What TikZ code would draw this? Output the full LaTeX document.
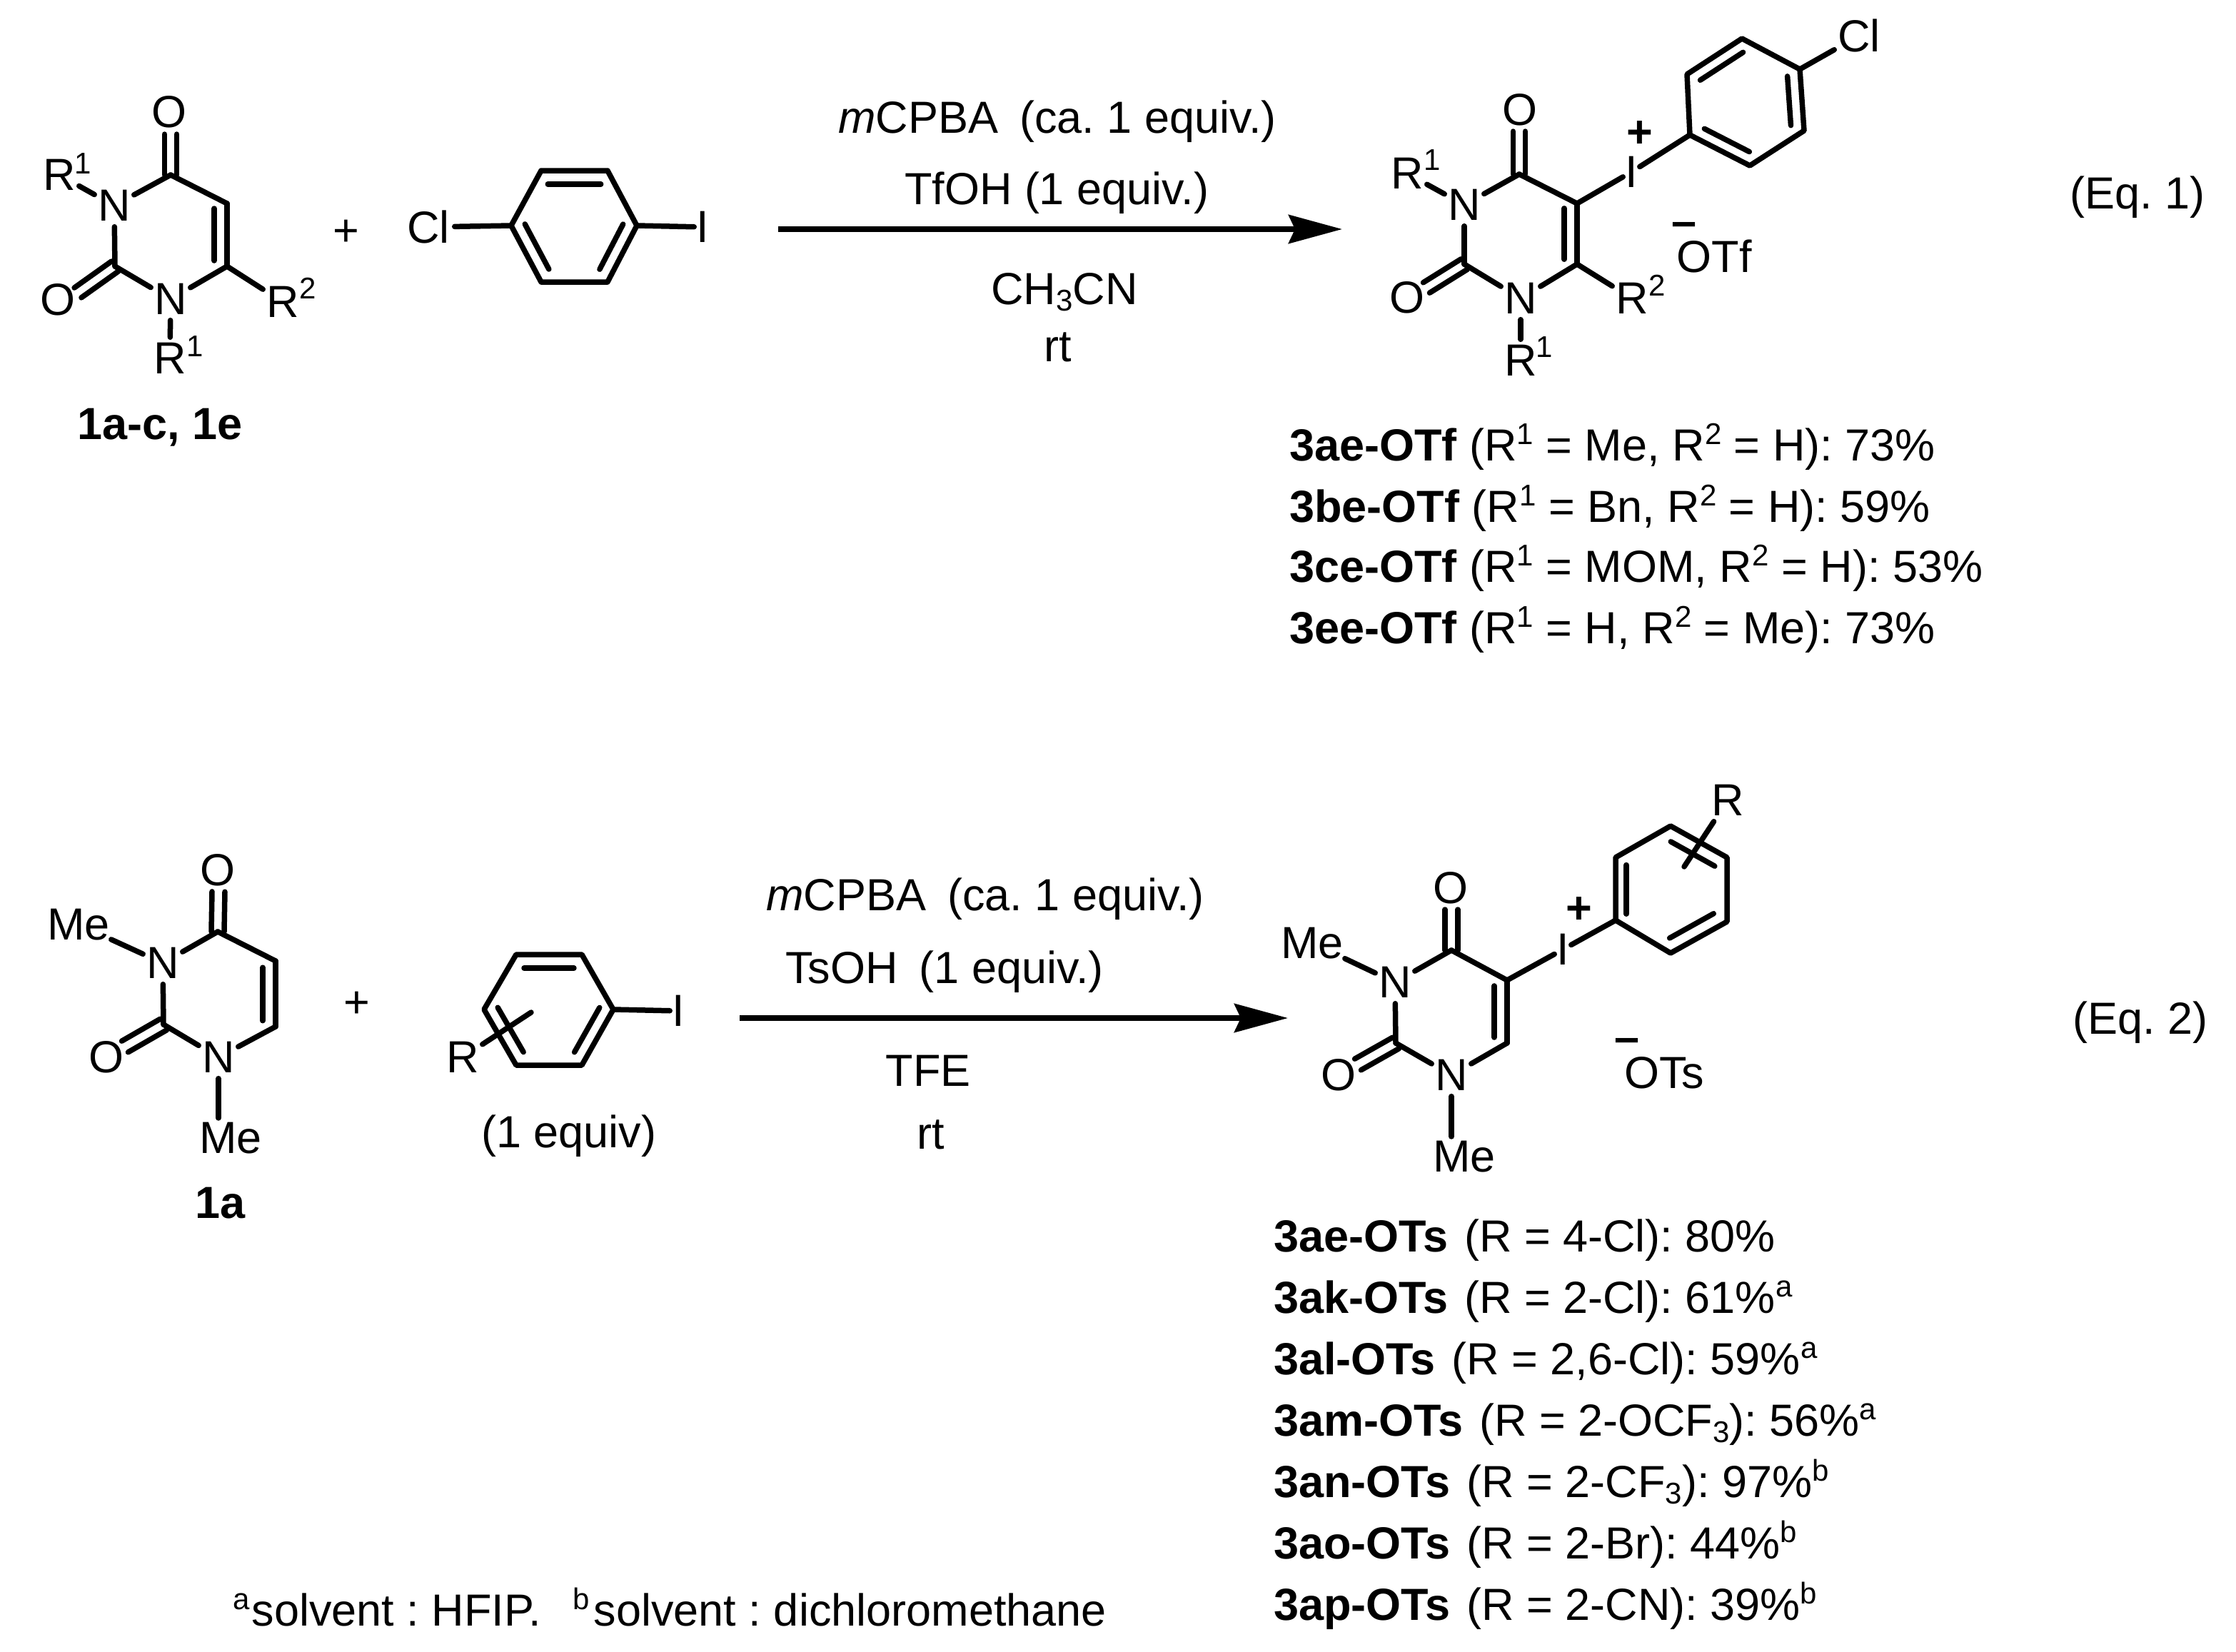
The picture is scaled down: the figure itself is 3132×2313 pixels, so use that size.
\documentclass[tikz,border=0pt]{standalone}
\usepackage{fontspec}
\setmainfont{Liberation Sans}
\usetikzlibrary{calc,arrows.meta}
\frenchspacing
\tikzset{
  base font/.style={font=\fontsize{63}{75}\selectfont\frenchspacing},
  atom/.style={base font,inner xsep=5pt,inner ysep=8pt,outer sep=0pt},
  thinatom/.style={atom,inner xsep=3pt},
  supnum/.style={font=\fontsize{42}{50}\selectfont,inner sep=0pt},
  charge/.style={font=\fontsize{63}{75}\selectfont\bfseries,inner sep=0pt},
  plain/.style={base font,inner sep=0pt,anchor=base},
  listline/.style={base font,inner sep=0pt,anchor=base west},
  compound/.style={font=\fontsize{63}{75}\selectfont\bfseries\frenchspacing,inner sep=0pt,anchor=base},
  bond/.style={line width=7.5pt,line cap=round,line join=round,black},
  rxnarrow/.style={line width=7.5pt,-{Stealth[length=75pt,width=40pt,inset=9pt]}},
}
\newcommand{\innerbond}[5]{\draw[bond] ($(#1)!#3!(#2)!#5pt!90:(#2)$) -- ($(#1)!#4!(#2)!#5pt!90:(#2)$);}
\newcommand{\twinbond}[3]{%
  \draw[bond] ($(#1)!#3pt!90:(#2)$) -- ($(#2)!#3pt!-90:(#1)$);
  \draw[bond] ($(#1)!#3pt!-90:(#2)$) -- ($(#2)!#3pt!90:(#1)$);}
\newcommand{\bd}[2]{\draw[bond] (#1) -- (#2);}
\newcommand{\suptxt}[1]{\raisebox{23pt}{\fontsize{42}{50}\selectfont #1}}
\newcommand{\subtxt}[1]{\raisebox{-9pt}{\fontsize{42}{50}\selectfont #1}}
\begin{document}
\begin{tikzpicture}[x=1pt,y=-1pt]
\useasboundingbox (0,0) rectangle (3132,2313);

% ---------- Eq. 1, reactant 1
\coordinate (aC4) at (239,245);
\coordinate (aC5) at (318,285);
\coordinate (aC6) at (318,373);
\coordinate (aC2) at (161,373);
\coordinate (aO4e) at (239,188);
\coordinate (aO2e) at (109,410);
\node[atom] (aN3) at (160,288) {N};
\node[atom] (aN1) at (239,419) {N};
\node[atom] (aO4) at (237,157) {O};
\node[atom] (aO2) at (81,420) {O};
\node[atom] (aRa) at (83,245) {R};
\node[supnum] (aRas) at (116,229) {1};
\node[atom] (aRb) at (396,423) {R};
\node[supnum] (aRbs) at (431,404) {2};
\node[atom] (aRc) at (238,502) {R};
\node[supnum] (aRcs) at (273,485) {1};
\bd{aN3}{aC4} \bd{aC4}{aC5} \bd{aC5}{aC6} \bd{aC6}{aN1} \bd{aN1}{aC2} \bd{aC2}{aN3}
\bd{aN3}{aRa} \bd{aC6}{aRb} \bd{aN1}{aRc}
\innerbond{aC6}{aC5}{0.09}{0.92}{18}
\twinbond{aC4}{aO4e}{8.5}
\twinbond{aC2}{aO2e}{8.5}
\node[compound] (aLab) at (224,615) {1a-c, 1e};
\node[base font,inner sep=0pt] (plusA) at (485,326) {+};

% ---------- Eq. 1, chloroiodobenzene
\coordinate (bV1) at (716,316);
\coordinate (bV2) at (758,239);
\coordinate (bV3) at (851,239);
\coordinate (bV4) at (892,316);
\coordinate (bV5) at (851,395);
\coordinate (bV6) at (758,395);
\node[atom,inner xsep=7pt] (bCl) at (600,318) {Cl};
\node[thinatom] (bI) at (984,318) {I};
\draw[bond] (bV1) -- (bV2) -- (bV3) -- (bV4) -- (bV5) -- (bV6) -- cycle;
\bd{bCl}{bV1} \bd{bV4}{bI}
\innerbond{bV3}{bV2}{0.1}{0.9}{19}
\innerbond{bV1}{bV6}{0.08}{0.88}{18}
\innerbond{bV5}{bV4}{0.12}{0.92}{18}

% ---------- Eq. 1, conditions
\coordinate (arA1) at (1090,321);
\coordinate (arA2) at (1880,321);
\draw[rxnarrow] (arA1) -- (arA2);
\node[plain] (cA1) at (1481,186) {\textit{m}CPBA\hspace{30pt}(ca. 1 equiv.)};
\node[plain] (cA2) at (1480,286) {TfOH (1 equiv.)};
\node[plain] (cA3) at (1491,426) {CH\subtxt{3}CN};
\node[plain] (cA4) at (1482,506) {rt};
\node[plain] (eq1) at (2994,292) {(Eq. 1)};

% ---------- Eq. 1, product
\coordinate (pC4) at (2128,244);
\coordinate (pC5) at (2209,285);
\coordinate (pC6) at (2209,370);
\coordinate (pC2) at (2051,370);
\coordinate (pO4e) at (2128,184);
\coordinate (pO2e) at (1998,403);
\node[atom] (pN3) at (2051,287) {N};
\node[atom] (pN1) at (2130,418) {N};
\node[atom] (pO4) at (2129,154) {O};
\node[atom] (pO2) at (1971,417) {O};
\node[atom] (pRa) at (1971,243) {R};
\node[supnum] (pRas) at (2006,224) {1};
\node[atom] (pRb) at (2286,418) {R};
\node[supnum] (pRbs) at (2321,400) {2};
\node[atom] (pRc) at (2130,505) {R};
\node[supnum] (pRcs) at (2163,486) {1};
\node[thinatom] (pI) at (2285,241) {I};
\node[charge] (pPlus) at (2297,188) {+};
\node[charge] (pMinus) at (2359,321) {–};
\node[plain] (pOTf) at (2401,381) {OTf};
\bd{pN3}{pC4} \bd{pC4}{pC5} \bd{pC5}{pC6} \bd{pC6}{pN1} \bd{pN1}{pC2} \bd{pC2}{pN3}
\bd{pN3}{pRa} \bd{pC6}{pRb} \bd{pN1}{pRc} \bd{pC5}{pI}
\innerbond{pC6}{pC5}{0.08}{0.92}{18}
\twinbond{pC4}{pO4e}{8.5}
\twinbond{pC2}{pO2e}{8.5}
\coordinate (qV1) at (2367,189);
\coordinate (qV2) at (2363,104);
\coordinate (qV3) at (2440,54);
\coordinate (qV4) at (2521,97);
\coordinate (qV5) at (2527,183);
\coordinate (qV6) at (2451,232);
\node[atom] (qCl) at (2604,50) {Cl};
\draw[bond] (qV1) -- (qV2) -- (qV3) -- (qV4) -- (qV5) -- (qV6) -- cycle;
\bd{pI}{qV1} \bd{qV4}{qCl}
\innerbond{qV3}{qV2}{0.1}{0.88}{17}
\innerbond{qV5}{qV4}{0.1}{0.9}{18}
\innerbond{qV1}{qV6}{0.15}{0.9}{17}

% ---------- Eq. 1, yields
\node[listline] (lA1) at (1806,645) {\textbf{3ae-OTf} (R\suptxt{1} = Me, R\suptxt{2} = H): 73\%};
\node[listline] (lA2) at (1806,731) {\textbf{3be-OTf} (R\suptxt{1} = Bn, R\suptxt{2} = H): 59\%};
\node[listline] (lA3) at (1806,815) {\textbf{3ce-OTf} (R\suptxt{1} = MOM, R\suptxt{2} = H): 53\%};
\node[listline] (lA4) at (1806,901) {\textbf{3ee-OTf} (R\suptxt{1} = H, R\suptxt{2} = Me): 73\%};

% ---------- Eq. 2, reactant 1
\coordinate (cC4) at (305,1305);
\coordinate (cC5) at (386,1346);
\coordinate (cC6) at (386,1438);
\coordinate (cC2) at (229,1435);
\coordinate (cO4e) at (306,1249);
\coordinate (cO2e) at (175,1466);
\node[atom] (cN3) at (228,1349) {N};
\node[atom] (cN1) at (306,1481) {N};
\node[atom] (cO4) at (305,1219) {O};
\node[atom] (cO2) at (149,1481) {O};
\node[atom,inner xsep=2pt,inner ysep=4pt] (cMeA) at (110,1295) {Me};
\node[atom,inner ysep=6pt] (cMeB) at (323,1594) {Me};
\bd{cN3}{cC4} \bd{cC4}{cC5} \bd{cC5}{cC6} \bd{cC6}{cN1} \bd{cN1}{cC2} \bd{cC2}{cN3}
\bd{cN3}{cMeA}
\draw[bond] (cN1.south) -- (cN1.south |- cMeB.north);
\innerbond{cC6}{cC5}{0.09}{0.9}{18}
\twinbond{cC4}{cO4e}{9}
\twinbond{cC2}{cO2e}{9}
\node[compound] (cLab) at (309,1706) {1a};
\node[base font,inner sep=0pt] (plusB) at (500,1407) {+};

% ---------- Eq. 2, iodoarene
\coordinate (dV1) at (678,1414);
\coordinate (dV2) at (723,1337);
\coordinate (dV3) at (815,1337);
\coordinate (dV4) at (859,1414);
\coordinate (dV5) at (815,1492);
\coordinate (dV6) at (723,1492);
\coordinate (dXe) at (744,1418);
\node[thinatom] (dI) at (950,1416) {I};
\node[atom] (dR) at (648,1481) {R};
\draw[bond] (dV1) -- (dV2) -- (dV3) -- (dV4) -- (dV5) -- (dV6) -- cycle;
\bd{dV4}{dI}
\bd{dR}{dXe}
\innerbond{dV3}{dV2}{0.12}{0.88}{19}
\innerbond{dV1}{dV6}{0.08}{0.88}{18}
\innerbond{dV5}{dV4}{0.12}{0.92}{18}
\node[plain] (dEq) at (797,1607) {(1 equiv)};

% ---------- Eq. 2, conditions
\coordinate (arB1) at (1036,1426);
\coordinate (arB2) at (1804,1426);
\draw[rxnarrow] (arB1) -- (arB2);
\node[plain] (cB1) at (1380,1275) {\textit{m}CPBA\hspace{30pt}(ca. 1 equiv.)};
\node[plain] (cB2) at (1323,1377) {TsOH\hspace{30pt}(1 equiv.)};
\node[plain] (cB3) at (1300,1521) {TFE};
\node[plain] (cB4) at (1304,1609) {rt};
\node[plain] (eq2) at (2998,1448) {(Eq. 2)};

% ---------- Eq. 2, product
\coordinate (rC4) at (2033,1331);
\coordinate (rC5) at (2111,1373);
\coordinate (rC6) at (2111,1461);
\coordinate (rC2) at (1955,1461);
\coordinate (rO4e) at (2033,1274);
\coordinate (rO2e) at (1902,1491);
\node[atom] (rN3) at (1954,1376) {N};
\node[atom] (rN1) at (2033,1506) {N};
\node[atom] (rO4) at (2032,1244) {O};
\node[atom] (rO2) at (1875,1506) {O};
\node[atom,inner xsep=2pt,inner ysep=4pt] (rMeA) at (1838,1321) {Me};
\node[atom,inner ysep=6pt] (rMeB) at (2051,1620) {Me};
\node[thinatom] (rI) at (2189,1330) {I};
\node[charge] (rPlus) at (2212,1275) {+};
\node[charge] (rMinus) at (2279,1464) {–};
\node[plain] (rOTs) at (2331,1524) {OTs};
\bd{rN3}{rC4} \bd{rC4}{rC5} \bd{rC5}{rC6} \bd{rC6}{rN1} \bd{rN1}{rC2} \bd{rC2}{rN3}
\bd{rN3}{rMeA} \bd{rC5}{rI}
\draw[bond] (rN1.south) -- (rN1.south |- rMeB.north);
\innerbond{rC6}{rC5}{0.09}{0.91}{18}
\twinbond{rC4}{rO4e}{9}
\twinbond{rC2}{rO2e}{9}
\coordinate (sV1) at (2263,1289);
\coordinate (sV2) at (2263,1201);
\coordinate (sV3) at (2340,1157);
\coordinate (sV4) at (2419,1201);
\coordinate (sV5) at (2419,1291);
\coordinate (sV6) at (2340,1335);
\coordinate (sXe) at (2359,1214);
\node[atom] (sR) at (2420,1121) {R};
\draw[bond] (sV1) -- (sV2) -- (sV3) -- (sV4) -- (sV5) -- (sV6) -- cycle;
\bd{rI}{sV1} \bd{sR}{sXe}
\innerbond{sV1}{sV2}{0.1}{0.88}{-15}
\innerbond{sV4}{sV3}{0.1}{0.88}{19}
\innerbond{sV6}{sV5}{0.1}{0.88}{19}

% ---------- Eq. 2, yields
\node[listline] (lB1) at (1784,1753) {\textbf{3ae-OTs}\hspace{23pt}(R = 4-Cl): 80\%};
\node[listline] (lB2) at (1784,1839) {\textbf{3ak-OTs}\hspace{23pt}(R = 2-Cl): 61\%\suptxt{a}};
\node[listline] (lB3) at (1784,1925) {\textbf{3al-OTs}\hspace{23pt}(R = 2,6-Cl): 59\%\suptxt{a}};
\node[listline] (lB4) at (1784,2011) {\textbf{3am-OTs}\hspace{23pt}(R = 2-OCF\subtxt{3}): 56\%\suptxt{a}};
\node[listline] (lB5) at (1784,2097) {\textbf{3an-OTs}\hspace{23pt}(R = 2-CF\subtxt{3}): 97\%\suptxt{b}};
\node[listline] (lB6) at (1784,2183) {\textbf{3ao-OTs}\hspace{23pt}(R = 2-Br): 44\%\suptxt{b}};
\node[listline] (lB7) at (1784,2269) {\textbf{3ap-OTs}\hspace{23pt}(R = 2-CN): 39\%\suptxt{b}};

\node[listline] (foot) at (326,2277) {\suptxt{a}\hspace{3pt}solvent : HFIP.\hspace{45pt}\suptxt{b}\hspace{6pt}solvent : dichloromethane};
\end{tikzpicture}
\end{document}
